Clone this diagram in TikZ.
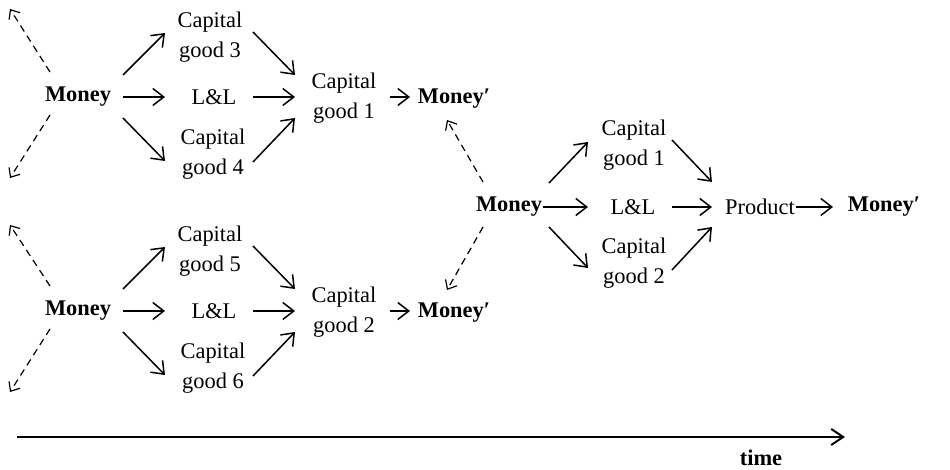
\documentclass[tikz,border=0pt]{standalone}
\usepackage{fontspec}
\setmainfont{Liberation Serif}
\usetikzlibrary{arrows.meta}
\begin{document}
\begin{tikzpicture}[x=0.5pt,y=-0.5pt,
  lbl/.style={inner sep=0pt,align=center,font=\fontsize{11.2}{15}\selectfont},
  blbl/.style={lbl,font=\fontsize{11.2}{15}\selectfont\bfseries},
  arr/.style={line width=0.75pt,-{Straight Barb[length=5.5pt,width=8.5pt,line width=0.75pt]}},
  darr/.style={line width=0.6pt,dash pattern=on 3.5pt off 2.5pt,-{Straight Barb[length=3.8pt,width=6.5pt,line width=0.6pt]}},
  tarr/.style={line width=1pt,-{Straight Barb[length=6pt,width=8pt,line width=1pt]}}]
\useasboundingbox (0,0) rectangle (950,470);
% top group
\node[blbl] (m1) at (78,97) {Money};
\node[lbl] (c3) at (210,37) {Capital\\good 3};
\node[lbl] (ll1) at (214,97) {L\&L};
\node[lbl] (c4) at (213,154) {Capital\\good 4};
\node[lbl] (c1) at (344,98) {Capital\\good 1};
\node[blbl] (mp1) at (454,99) {Money′};
\coordinate (d1) at (10,9);
\coordinate (d2) at (10,178);
% bottom group
\node[blbl] (m2) at (78,311) {Money};
\node[lbl] (c5) at (210,251) {Capital\\good 5};
\node[lbl] (ll2) at (214,311) {L\&L};
\node[lbl] (c6) at (213,368) {Capital\\good 6};
\node[lbl] (c2) at (344,312) {Capital\\good 2};
\node[blbl] (mp2) at (454,313) {Money′};
\coordinate (d3) at (10,225);
\coordinate (d4) at (10,392);
% right group
\node[blbl] (m3) at (509,207) {Money};
\node[lbl] (c1r) at (634,145) {Capital\\good 1};
\node[lbl] (llr) at (633,207) {L\&L};
\node[lbl] (c2r) at (634,263) {Capital\\good 2};
\node[lbl] (prod) at (760,207) {Product};
\node[blbl] (mpr) at (884,207) {Money′};
% time
\coordinate (t0) at (17,437);
\coordinate (t1) at (845,437);
\node[blbl] (time) at (761,458) {time};

% top arrows
\draw[arr] ([shift={(45,-22)}]m1.center) -- ([shift={(-45,-4)}]c3.center);
\draw[arr] ([shift={(45,0)}]m1.center) -- ([shift={(-49,0)}]ll1.center);
\draw[arr] ([shift={(45,21)}]m1.center) -- ([shift={(-48,7)}]c4.center);
\draw[arr] ([shift={(43,-5)}]c3.center) -- ([shift={(-49,-23)}]c1.center);
\draw[arr] ([shift={(39,0)}]ll1.center) -- ([shift={(-49,-1)}]c1.center);
\draw[arr] ([shift={(40,8)}]c4.center) -- ([shift={(-49,20)}]c1.center);
\draw[arr] ([shift={(46,-1)}]c1.center) -- ([shift={(-44,-2)}]mp1.center);
\draw[darr] ([shift={(-28,-25)}]m1.center) -- (d1);
\draw[darr] ([shift={(-28,18)}]m1.center) -- (d2);
% bottom arrows
\draw[arr] ([shift={(45,-22)}]m2.center) -- ([shift={(-45,-4)}]c5.center);
\draw[arr] ([shift={(45,0)}]m2.center) -- ([shift={(-49,0)}]ll2.center);
\draw[arr] ([shift={(45,21)}]m2.center) -- ([shift={(-48,7)}]c6.center);
\draw[arr] ([shift={(43,-5)}]c5.center) -- ([shift={(-49,-23)}]c2.center);
\draw[arr] ([shift={(39,0)}]ll2.center) -- ([shift={(-49,-1)}]c2.center);
\draw[arr] ([shift={(40,8)}]c6.center) -- ([shift={(-49,20)}]c2.center);
\draw[arr] ([shift={(46,-1)}]c2.center) -- ([shift={(-44,-2)}]mp2.center);
\draw[darr] ([shift={(-28,-25)}]m2.center) -- (d3);
\draw[darr] ([shift={(-28,18)}]m2.center) -- (d4);
% right arrows
\draw[arr] ([shift={(40,-24)}]m3.center) -- ([shift={(-46,-3)}]c1r.center);
\draw[arr] ([shift={(34,0)}]m3.center) -- ([shift={(-45,0)}]llr.center);
\draw[arr] ([shift={(40,20)}]m3.center) -- ([shift={(-46,5)}]c2r.center);
\draw[arr] ([shift={(38,-5)}]c1r.center) -- ([shift={(-48,-25)}]prod.center);
\draw[arr] ([shift={(39,0)}]llr.center) -- ([shift={(-48,0)}]prod.center);
\draw[arr] ([shift={(38,7)}]c2r.center) -- ([shift={(-48,20)}]prod.center);
\draw[arr] ([shift={(36,0)}]prod.center) -- ([shift={(-51,0)}]mpr.center);
\draw[darr] ([shift={(-26,-25)}]m3.center) -- ([shift={(-7,21)}]mp1.center);
\draw[darr] ([shift={(-26,20)}]m3.center) -- ([shift={(-7,-23)}]mp2.center);
% time axis
\draw[tarr] (t0) -- (t1);
\end{tikzpicture}
\end{document}
